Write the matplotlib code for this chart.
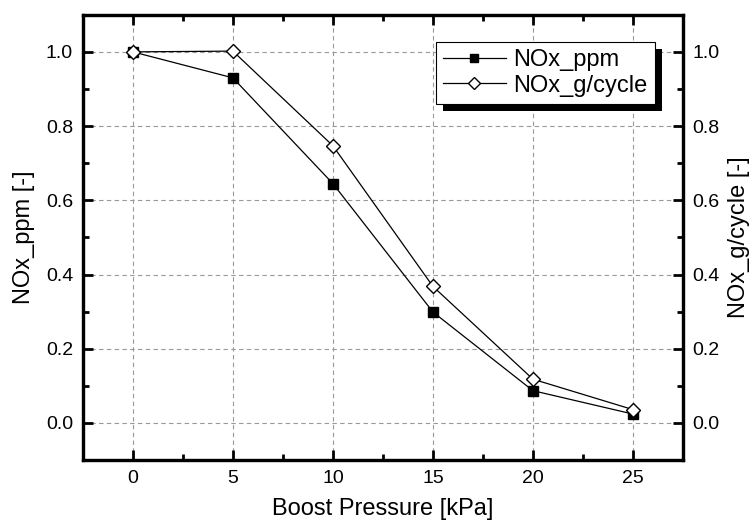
import matplotlib
matplotlib.use("Agg")
import matplotlib.pyplot as plt
from matplotlib.patches import Rectangle
from matplotlib.ticker import MultipleLocator

plt.rcParams['font.family'] = ['Liberation Sans', 'DejaVu Sans']

# data
boost = [0, 5, 10, 15, 20, 25]
nox_ppm = [1.0, 0.930, 0.645, 0.299, 0.087, 0.024]
nox_g_cycle = [1.0, 1.002, 0.747, 0.368, 0.118, 0.036]

fig = plt.figure(figsize=(7.53, 5.27), dpi=100)
ax = fig.add_axes([0.110, 0.127, 0.797, 0.845])

ax.plot(boost, nox_ppm, color='black', lw=0.9, marker='s', ms=7.5,
        mfc='black', mec='black', label='NOx_ppm', zorder=3)
ax.plot(boost, nox_g_cycle, color='black', lw=0.9, marker='D', ms=7.5,
        mfc='white', mec='black', mew=1.0, label='NOx_g/cycle', zorder=3)

ax.set_xlim(-2.5, 27.5)
ax.set_ylim(-0.1, 1.1)
ax.xaxis.set_major_locator(MultipleLocator(5))
ax.xaxis.set_minor_locator(MultipleLocator(2.5))
ax.yaxis.set_major_locator(MultipleLocator(0.2))
ax.yaxis.set_minor_locator(MultipleLocator(0.1))
ax.yaxis.set_major_formatter(plt.FormatStrFormatter('%.1f'))
ax.grid(True, which='major', color='#999999', ls=(0, (4, 3)), lw=0.8)

ax.tick_params(which='both', direction='in', top=True, right=False,
               labelsize=14, width=2, pad=7)
ax.tick_params(which='major', length=7)
ax.tick_params(which='minor', length=4)
for s in ax.spines.values():
    s.set_linewidth(2.3)

ax.set_xlabel('Boost Pressure [kPa]', fontsize=17, labelpad=8)
ax.set_ylabel('NOx_ppm [-]', fontsize=17, labelpad=8)

ax2 = ax.twinx()
ax2.set_ylim(ax.get_ylim())
ax2.yaxis.set_major_locator(MultipleLocator(0.2))
ax2.yaxis.set_minor_locator(MultipleLocator(0.1))
ax2.yaxis.set_major_formatter(plt.FormatStrFormatter('%.1f'))
ax2.tick_params(which='both', direction='in', labelsize=14, width=2, pad=7)
ax2.tick_params(which='major', length=7)
ax2.tick_params(which='minor', length=4)
for s in ax2.spines.values():
    s.set_linewidth(2.3)
ax2.set_ylabel('NOx_g/cycle [-]', fontsize=17, labelpad=6)

leg = ax.legend(loc='upper right', bbox_to_anchor=(0.953, 0.939), fontsize=17,
                frameon=True, fancybox=False, edgecolor='black',
                framealpha=1, handlelength=2.7, handletextpad=0.3,
                borderpad=0.3, labelspacing=0.15, borderaxespad=0,
                markerscale=0.85)
leg.get_frame().set_linewidth(0.8)
leg.set_zorder(10)

# legend shadow as a solid black block
fig.canvas.draw()
bb = leg.get_window_extent()
shadow = Rectangle((bb.x0 + 7, bb.y0 - 7), bb.width, bb.height,
                   transform=None, facecolor='black', edgecolor='none',
                   zorder=9)
ax.add_artist(shadow)

fig.savefig('out.png', dpi=100)
